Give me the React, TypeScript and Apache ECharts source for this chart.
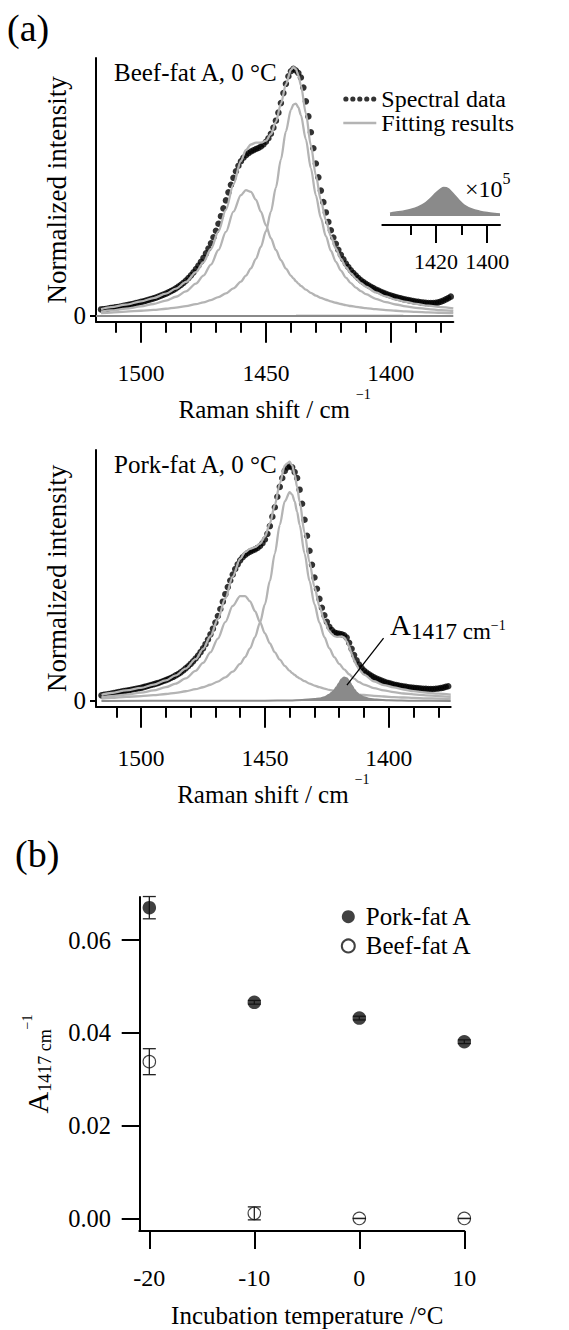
import React, { useEffect, useRef } from 'react';
import * as echarts from 'echarts';

const FONT = 'Liberation Serif, Times New Roman, serif';
const FIT_GRAY = '#b4b4b4';
const DARK_GRAY = '#8a8a8a';

// ---------- Spectral data (1 cm-1 sampling, 1516 -> 1376 cm-1) ----------
const DATA_START = 1516;
const BEEF_DATA = [
  0.025, 0.026, 0.027, 0.029, 0.031, 0.032, 0.034, 0.035, 0.037, 0.039,
  0.041, 0.043, 0.045, 0.047, 0.050, 0.052, 0.055, 0.057, 0.060, 0.063,
  0.066, 0.069, 0.072, 0.076, 0.080, 0.084, 0.088, 0.093, 0.098, 0.103,
  0.109, 0.116, 0.123, 0.131, 0.140, 0.150, 0.161, 0.173, 0.186, 0.200,
  0.215, 0.231, 0.249, 0.268, 0.289, 0.313, 0.339, 0.367, 0.397, 0.428,
  0.460, 0.492, 0.522, 0.550, 0.576, 0.598, 0.616, 0.630, 0.640, 0.648,
  0.655, 0.660, 0.665, 0.669, 0.675, 0.683, 0.694, 0.708, 0.726, 0.750,
  0.778, 0.810, 0.848, 0.888, 0.925, 0.955, 0.975, 0.985, 0.978, 0.968,
  0.950, 0.910, 0.855, 0.795, 0.732, 0.668, 0.607, 0.552, 0.499, 0.453,
  0.412, 0.374, 0.341, 0.312, 0.287, 0.263, 0.243, 0.225, 0.208, 0.194,
  0.181, 0.170, 0.160, 0.150, 0.141, 0.134, 0.127, 0.121, 0.115, 0.110,
  0.104, 0.100, 0.095, 0.091, 0.087, 0.083, 0.080, 0.077, 0.074, 0.071,
  0.069, 0.066, 0.064, 0.062, 0.060, 0.058, 0.056, 0.055, 0.053, 0.052,
  0.051, 0.050, 0.050, 0.050, 0.051, 0.053, 0.056, 0.060, 0.065, 0.070,
  0.076,
];
const PORK_DATA = [
  0.024, 0.026, 0.028, 0.030, 0.032, 0.034, 0.036, 0.038, 0.040, 0.042,
  0.044, 0.046, 0.048, 0.050, 0.052, 0.054, 0.056, 0.059, 0.062, 0.065,
  0.068, 0.071, 0.074, 0.077, 0.081, 0.085, 0.089, 0.093, 0.098, 0.103,
  0.109, 0.115, 0.122, 0.130, 0.139, 0.148, 0.158, 0.169, 0.181, 0.194,
  0.208, 0.224, 0.242, 0.262, 0.284, 0.308, 0.334, 0.362, 0.392, 0.423,
  0.455, 0.485, 0.513, 0.539, 0.562, 0.582, 0.599, 0.612, 0.622, 0.630,
  0.636, 0.641, 0.646, 0.652, 0.660, 0.672, 0.688, 0.712, 0.745, 0.785,
  0.825, 0.870, 0.912, 0.950, 0.980, 0.995, 1.000, 0.995, 0.975, 0.950,
  0.900, 0.840, 0.772, 0.704, 0.640, 0.580, 0.526, 0.478, 0.435, 0.397,
  0.365, 0.337, 0.316, 0.302, 0.292, 0.288, 0.286, 0.284, 0.280, 0.270,
  0.248, 0.222, 0.196, 0.173, 0.155, 0.141, 0.130, 0.121, 0.114, 0.107,
  0.101, 0.096, 0.091, 0.087, 0.083, 0.079, 0.076, 0.073, 0.070, 0.068,
  0.066, 0.064, 0.062, 0.060, 0.058, 0.057, 0.056, 0.055, 0.054, 0.053,
  0.052, 0.052, 0.051, 0.051, 0.051, 0.052, 0.053, 0.055, 0.057, 0.060,
  0.063,
];

// ---------- Fitting results ----------
const FIT_X = [
  1516, 1512, 1506, 1500, 1495, 1490, 1486, 1482, 1478, 1475,
  1472, 1469, 1466, 1463, 1460, 1458, 1456, 1454, 1452, 1450,
  1448, 1446, 1444, 1442, 1440, 1439, 1438, 1437, 1436, 1434,
  1432, 1430, 1428, 1426, 1424, 1422, 1420, 1418, 1416, 1414,
  1412, 1410, 1406, 1402, 1398, 1394, 1390, 1385, 1380, 1375,
];
const BEEF_FIT_TOTAL = [
  0.026, 0.034, 0.044, 0.057, 0.070, 0.088, 0.108, 0.135, 0.174, 0.213,
  0.266, 0.336, 0.423, 0.524, 0.617, 0.661, 0.683, 0.690, 0.690, 0.698,
  0.724, 0.773, 0.845, 0.923, 0.981, 0.991, 0.984, 0.959, 0.919, 0.807,
  0.679, 0.560, 0.460, 0.381, 0.316, 0.267, 0.227, 0.194, 0.169, 0.148,
  0.130, 0.116, 0.093, 0.077, 0.064, 0.055, 0.047, 0.040, 0.034, 0.029,
];
const BEEF_FIT_1440 = [
  0.010, 0.0125, 0.016, 0.0196, 0.0231, 0.0277, 0.0323, 0.0382, 0.0458, 0.0533,
  0.0623, 0.074, 0.0892, 0.109, 0.136, 0.160, 0.189, 0.227, 0.275, 0.337,
  0.415, 0.511, 0.623, 0.735, 0.821, 0.842, 0.846, 0.831, 0.800, 0.703,
  0.588, 0.480, 0.389, 0.317, 0.259, 0.215, 0.180, 0.152, 0.130, 0.112,
  0.0977, 0.0858, 0.0674, 0.0543, 0.0446, 0.0373, 0.0315, 0.0261, 0.0219, 0.0187,
];
const BEEF_FIT_1457 = [
  0.016, 0.021, 0.028, 0.0371, 0.0466, 0.0603, 0.0756, 0.0971, 0.128, 0.160,
  0.204, 0.262, 0.334, 0.415, 0.481, 0.501, 0.494, 0.463, 0.415, 0.361,
  0.309, 0.262, 0.222, 0.188, 0.160, 0.1487, 0.138, 0.128, 0.119, 0.104,
  0.091, 0.0803, 0.0713, 0.0636, 0.0571, 0.0515, 0.0466, 0.0424, 0.0387, 0.0355,
  0.0326, 0.0301, 0.0259, 0.0224, 0.0196, 0.0173, 0.0154, 0.0134, 0.0118, 0.0104,
];
const PORK_FIT_1440 = [
  0.010, 0.013, 0.0173, 0.0209, 0.0247, 0.0297, 0.0349, 0.0415, 0.0502, 0.0586,
  0.0692, 0.0829, 0.101, 0.125, 0.158, 0.187, 0.224, 0.272, 0.334, 0.412,
  0.511, 0.628, 0.750, 0.850, 0.889, 0.879, 0.850, 0.805, 0.750, 0.628,
  0.511, 0.412, 0.334, 0.272, 0.224, 0.187, 0.158, 0.135, 0.114, 0.095,
  0.080, 0.070, 0.055, 0.045, 0.038, 0.032, 0.028, 0.024, 0.021, 0.018,
];
const PORK_FIT_1459 = [
  0.016, 0.021, 0.0275, 0.0355, 0.045, 0.0587, 0.0742, 0.0963, 0.128, 0.162,
  0.207, 0.266, 0.336, 0.405, 0.447, 0.447, 0.424, 0.383, 0.336, 0.288,
  0.245, 0.207, 0.176, 0.150, 0.128, 0.119, 0.111, 0.103, 0.0963, 0.0843,
  0.0742, 0.0658, 0.0587, 0.0526, 0.0474, 0.0428, 0.0389, 0.0355, 0.0325, 0.0299,
  0.0275, 0.0255, 0.022, 0.0191, 0.0168, 0.0148, 0.0132, 0.0115, 0.0102, 0.009,
];
const PORK_TOTAL_X = [
  1516, 1512, 1506, 1500, 1495, 1490, 1486, 1482, 1478, 1475,
  1472, 1469, 1466, 1463, 1460, 1458, 1456, 1454, 1452, 1450,
  1448, 1446, 1444, 1442, 1441, 1440, 1439, 1438, 1437, 1436,
  1434, 1432, 1430, 1428, 1426, 1424, 1423, 1422, 1421, 1420,
  1419, 1418, 1417, 1416, 1415, 1414, 1413, 1412, 1410, 1406,
  1402, 1398, 1394, 1390, 1385, 1380, 1375,
];
const PORK_FIT_TOTAL = [
  0.026, 0.034, 0.045, 0.056, 0.070, 0.088, 0.109, 0.138, 0.178, 0.221,
  0.276, 0.349, 0.437, 0.530, 0.605, 0.634, 0.648, 0.655, 0.670, 0.700,
  0.756, 0.835, 0.926, 1.002, 1.012, 1.019, 1.003, 0.964, 0.911, 0.850,
  0.717, 0.591, 0.486, 0.404, 0.341, 0.298, 0.285, 0.276, 0.273, 0.274,
  0.275, 0.271, 0.255, 0.231, 0.201, 0.174, 0.152, 0.134, 0.112, 0.084,
  0.068, 0.058, 0.049, 0.042, 0.036, 0.031, 0.027,
];
// 1417 cm-1 component (pork, normalized intensity)
const PORK_C_X = [
  1516, 1480, 1460, 1450, 1440, 1435, 1430, 1428, 1426, 1424,
  1423, 1422, 1421, 1420, 1419, 1418, 1417, 1416, 1415, 1414,
  1413, 1412, 1410, 1408, 1405, 1400, 1390, 1375,
];
const PORK_C = [
  0.0003, 0.0006, 0.001, 0.0015, 0.002, 0.004, 0.008, 0.011, 0.016, 0.027,
  0.035, 0.046, 0.06, 0.077, 0.093, 0.1, 0.097, 0.084, 0.066, 0.049,
  0.036, 0.026, 0.016, 0.01, 0.006, 0.003, 0.001, 0.0005,
];
// 1417 cm-1 component (beef), in units of 1e-5 (inset, "x10^5")
const INSET_X = [
  1438, 1436, 1433, 1430, 1427, 1424, 1422, 1420, 1418, 1417,
  1416, 1415, 1413, 1411, 1409, 1406, 1403, 1400, 1397, 1395,
];
const BEEF_C_X1E5 = [
  0.012, 0.016, 0.021, 0.028, 0.039, 0.058, 0.077, 0.100, 0.118, 0.123,
  0.122, 0.116, 0.092, 0.068, 0.047, 0.030, 0.021, 0.015, 0.011, 0.009,
];

// ---------- Panel (b) ----------
const TEMPS = [-20, -10, 0, 10];
const PORK_A1417 = [0.0670, 0.0466, 0.0432, 0.0381];
const PORK_ERR = [0.0024, 0.0004, 0.0004, 0.0004];
const BEEF_A1417 = [0.0338, 0.0011, 0.0, 0.0];
const BEEF_ERR = [0.0028, 0.0014, 0.0, 0.0];

// ---------- Ticks ----------
const RAMAN_MAJOR = [1500, 1450, 1400];
const RAMAN_MINOR = [1510, 1490, 1480, 1470, 1460, 1440, 1430, 1420, 1410, 1390, 1380];
const INSET_MAJOR = [1420, 1400];
const INSET_MINOR = [1430, 1410];
const A_TICKS = [0, 0.02, 0.04, 0.06];
const T_TICKS = [-20, -10, 0, 10];

const zip = (xs: number[], ys: number[]) => xs.map((x, i) => [x, ys[i]]);
const onGrid = (ys: number[]) => ys.map((y, i) => [DATA_START - i, y]);

const DOTS_ICON =
  'path://M0,2.75a2.75,2.75 0 1,0 5.5,0a2.75,2.75 0 1,0 -5.5,0' +
  'M7.375,2.75a2.75,2.75 0 1,0 5.5,0a2.75,2.75 0 1,0 -5.5,0' +
  'M14.75,2.75a2.75,2.75 0 1,0 5.5,0a2.75,2.75 0 1,0 -5.5,0' +
  'M22.125,2.75a2.75,2.75 0 1,0 5.5,0a2.75,2.75 0 1,0 -5.5,0' +
  'M29.5,2.75a2.75,2.75 0 1,0 5.5,0a2.75,2.75 0 1,0 -5.5,0';
const LINE_ICON = 'path://M0,0h35v2.4h-35z';

const black = '#000';
const axisLine = { show: true, onZero: false, lineStyle: { color: black, width: 2 } };
const tickStyle = { color: black, width: 2 };
const plain = (v: number) => String(v);

function ramanAxes(gridIndex: number, max: number) {
  return [
    {
      type: 'value', gridIndex, position: 'bottom', min: 1375, max, inverse: true,
      axisLine,
      axisTick: { show: true, length: 21, lineStyle: tickStyle, customValues: RAMAN_MAJOR },
      axisLabel: { show: true, customValues: RAMAN_MAJOR, formatter: plain, margin: 39.5, fontSize: 23.5, color: black, fontFamily: FONT },
      splitLine: { show: false },
      name: '{m|Raman shift / cm}{s|\u22121}',
      nameLocation: 'middle', nameGap: 66, nameMoveOverlap: false,
      nameTextStyle: {
        color: black, fontFamily: FONT,
        rich: {
          m: { fontSize: 25, lineHeight: 44, fontFamily: FONT, color: black },
          s: { fontSize: 14, verticalAlign: 'top', padding: [0, 0, 0, 6], fontFamily: FONT, color: black },
        },
      },
    },
    {
      type: 'value', gridIndex, position: 'bottom', min: 1375, max, inverse: true,
      axisLine: { show: false, onZero: false },
      axisTick: { show: true, length: 11, lineStyle: tickStyle, customValues: RAMAN_MINOR },
      axisLabel: { show: false },
      splitLine: { show: false },
    },
  ];
}

function intensityAxis(gridIndex: number, min: number, max: number) {
  return {
    type: 'value', gridIndex, min, max,
    axisLine,
    axisTick: { show: true, length: 6, lineStyle: tickStyle, customValues: [0] },
    axisLabel: { show: true, customValues: [0], formatter: () => '0', margin: 10, fontSize: 25, color: black, fontFamily: FONT },
    splitLine: { show: false },
    name: 'Normalized intensity', nameLocation: 'middle', nameRotate: 90, nameGap: 26, nameMoveOverlap: false,
    nameTextStyle: { fontSize: 27, color: black, fontFamily: FONT },
  };
}

function fitLine(name: string, xs: number[], ys: number[], xAxisIndex: number, yAxisIndex: number) {
  return {
    name, type: 'line', xAxisIndex, yAxisIndex, data: zip(xs, ys),
    showSymbol: false, symbol: 'none', smooth: 0.3, smoothMonotone: 'x',
    lineStyle: { color: FIT_GRAY, width: 2.3 }, itemStyle: { color: FIT_GRAY },
    z: 3, silent: true,
  };
}

function dataScatter(ys: number[], xAxisIndex: number, yAxisIndex: number) {
  return {
    name: 'Spectral data', type: 'scatter', xAxisIndex, yAxisIndex, data: onGrid(ys),
    symbol: 'circle', symbolSize: 6.5, itemStyle: { color: black }, z: 2, silent: true,
  };
}

const errRender = (params: any, api: any) => {
  const x = api.value(0);
  const lo = api.value(2);
  const hi = api.value(3);
  const top = api.coord([x, hi]);
  const bot = api.coord([x, lo]);
  const w = 6.5;
  const style = { stroke: '#222', lineWidth: 1.3 };
  return {
    type: 'group',
    children: [
      { type: 'line', shape: { x1: top[0], y1: top[1], x2: bot[0], y2: bot[1] }, style },
      { type: 'line', shape: { x1: top[0] - w, y1: top[1], x2: top[0] + w, y2: top[1] }, style },
      { type: 'line', shape: { x1: bot[0] - w, y1: bot[1], x2: bot[0] + w, y2: bot[1] }, style },
    ],
  };
};

function buildOption() {
  const errData = [
    ...TEMPS.map((t, i) => [t, PORK_A1417[i], PORK_A1417[i] - PORK_ERR[i], PORK_A1417[i] + PORK_ERR[i]]),
    ...TEMPS.map((t, i) => [t, BEEF_A1417[i], BEEF_A1417[i] - BEEF_ERR[i], BEEF_A1417[i] + BEEF_ERR[i]]),
  ];

  return {
    animation: false,
    backgroundColor: '#fff',
    textStyle: { fontFamily: FONT, color: black },
    title: [
      { text: '(a)', left: 7, top: 9, padding: 0, textStyle: { fontSize: 38, fontWeight: 'normal', fontFamily: FONT, color: black } },
      { text: '(b)', left: 15, top: 835, padding: 0, textStyle: { fontSize: 38, fontWeight: 'normal', fontFamily: FONT, color: black } },
      { text: 'Beef-fat A, 0 \u00B0C', left: 114, top: 60, padding: 0, textStyle: { fontSize: 25, fontWeight: 'normal', fontFamily: FONT, color: black } },
      { text: 'Pork-fat A, 0 \u00B0C', left: 114, top: 451.5, padding: 0, textStyle: { fontSize: 25, fontWeight: 'normal', fontFamily: FONT, color: black } },
    ],
    legend: [
      {
        orient: 'vertical', left: 343.3, top: 87, padding: 0, itemGap: 0,
        itemWidth: 33, itemHeight: 7, selectedMode: false,
        textStyle: { fontSize: 24, lineHeight: 24, fontFamily: FONT, color: black },
        data: [
          { name: 'Spectral data', icon: DOTS_ICON, itemStyle: { color: black } },
          { name: 'Fitting results', icon: LINE_ICON, itemStyle: { color: FIT_GRAY } },
        ],
      },
      {
        orient: 'vertical', left: 340.8, top: 902, padding: 0, itemGap: 0,
        itemWidth: 25, itemHeight: 13, selectedMode: false,
        textStyle: { fontSize: 25, lineHeight: 29.3, fontFamily: FONT, color: black },
        data: [
          { name: 'Pork-fat A', icon: 'circle' },
          { name: 'Beef-fat A', icon: 'circle' },
        ],
      },
    ],
    grid: [
      { left: 96, top: 58, width: 357.3, height: 263.7, containLabel: false, outerBoundsMode: 'none' },
      { left: 382.3, top: 181.1, width: 117.7, height: 43.9, containLabel: false, outerBoundsMode: 'none' },
      { left: 96, top: 450, width: 354.7, height: 256.7, containLabel: false, outerBoundsMode: 'none' },
      { left: 139.3, top: 897, width: 325, height: 334, containLabel: false, outerBoundsMode: 'none' },
    ],
    xAxis: [
      ...ramanAxes(0, 1518),
      {
        type: 'value', gridIndex: 1, position: 'bottom', min: 1395, max: 1441, inverse: true,
        axisLine,
        axisTick: { show: true, length: 18, lineStyle: tickStyle, customValues: INSET_MAJOR },
        axisLabel: { show: true, customValues: INSET_MAJOR, formatter: plain, margin: 25.7, fontSize: 22, color: black, fontFamily: FONT },
        splitLine: { show: false },
      },
      {
        type: 'value', gridIndex: 1, position: 'bottom', min: 1395, max: 1441, inverse: true,
        axisLine: { show: false, onZero: false },
        axisTick: { show: true, length: 10, lineStyle: tickStyle, customValues: INSET_MINOR },
        axisLabel: { show: false },
        splitLine: { show: false },
      },
      ...ramanAxes(2, 1518.2),
      {
        type: 'value', gridIndex: 3, position: 'bottom', min: -20.955, max: 10,
        axisLine,
        axisTick: { show: true, length: 18, lineStyle: tickStyle, customValues: T_TICKS },
        axisLabel: { show: true, customValues: T_TICKS, formatter: plain, margin: 35, fontSize: 24, color: black, fontFamily: FONT },
        splitLine: { show: false },
        name: 'Incubation temperature /\u00B0C', nameLocation: 'middle', nameGap: 71.5, nameMoveOverlap: false,
        nameTextStyle: { fontSize: 25, lineHeight: 25, color: black, fontFamily: FONT, padding: [0, 0, 0, 11] },
      },
    ],
    yAxis: [
      intensityAxis(0, -0.024, 1.028),
      { type: 'value', gridIndex: 1, show: false, min: -0.0386, max: 0.15, splitLine: { show: false } },
      intensityAxis(2, -0.0243, 1.069),
      {
        type: 'value', gridIndex: 3, min: -0.0027, max: 0.0693,
        axisLine,
        axisTick: { show: true, length: 17.6, lineStyle: tickStyle, customValues: A_TICKS },
        axisLabel: {
          show: true, customValues: A_TICKS, margin: 28.3, fontSize: 24.5, color: black, fontFamily: FONT,
          formatter: (v: number) => v.toFixed(2),
        },
        splitLine: { show: false },
        name: '{a|A}{b|1417 cm}{c|\u22121}', nameLocation: 'middle', nameRotate: 90, nameGap: 85, nameMoveOverlap: false,
        nameTextStyle: {
          color: black, fontFamily: FONT,
          rich: {
            a: { fontSize: 30, lineHeight: 34, fontFamily: FONT, color: black },
            b: { fontSize: 18, verticalAlign: 'bottom', fontFamily: FONT, color: black },
            c: { fontSize: 14, verticalAlign: 'top', fontFamily: FONT, color: black },
          },
        },
      },
    ],
    graphic: [
      {
        type: 'text', x: 465, y: 170, silent: true,
        style: {
          text: '{a|\u00D710}{b|5}', fill: black, verticalAlign: 'top', align: 'left',
          rich: {
            a: { fontSize: 24, lineHeight: 31, verticalAlign: 'bottom', fontFamily: FONT, fill: black },
            b: { fontSize: 16, verticalAlign: 'top', fontFamily: FONT, fill: black },
          },
        },
      },
      {
        type: 'text', x: 390, y: 607, silent: true,
        style: {
          text: '{a|A}{b|1417 cm}{c|\u22121}', fill: black, verticalAlign: 'top', align: 'left',
          rich: {
            a: { fontSize: 29, lineHeight: 36, fontFamily: FONT, fill: black },
            b: { fontSize: 23, verticalAlign: 'bottom', fontFamily: FONT, fill: black },
            c: { fontSize: 14, fontFamily: FONT, fill: black },
          },
        },
      },
    ],
    series: [
      // (a) top: beef-fat
      dataScatter(BEEF_DATA, 0, 0),
      fitLine('Fitting results', FIT_X, BEEF_FIT_TOTAL, 0, 0),
      fitLine('Fitting results', FIT_X, BEEF_FIT_1440, 0, 0),
      fitLine('Fitting results', FIT_X, BEEF_FIT_1457, 0, 0),
      {
        name: 'A1417 beef', type: 'line', xAxisIndex: 0, yAxisIndex: 0,
        data: INSET_X.map((x, i) => [x, BEEF_C_X1E5[i] * 1e-5]),
        showSymbol: false, symbol: 'none', lineStyle: { color: DARK_GRAY, width: 2 }, z: 4, silent: true,
        markLine: {
          silent: true, symbol: ['none', 'none'], label: { show: false },
          lineStyle: { color: DARK_GRAY, width: 2, type: 'solid' },
          data: [{ yAxis: 0 }],
        },
      },
      // inset x10^5
      {
        name: 'A1417 beef x1e5', type: 'line', xAxisIndex: 2, yAxisIndex: 1,
        data: zip(INSET_X, BEEF_C_X1E5), smooth: 0.3, showSymbol: false, symbol: 'none',
        lineStyle: { color: DARK_GRAY, width: 1.5 }, areaStyle: { color: DARK_GRAY, opacity: 1 },
        silent: true,
      },
      // (a) bottom: pork-fat
      dataScatter(PORK_DATA, 4, 2),
      fitLine('Fitting results', PORK_TOTAL_X, PORK_FIT_TOTAL, 4, 2),
      fitLine('Fitting results', FIT_X, PORK_FIT_1440, 4, 2),
      fitLine('Fitting results', FIT_X, PORK_FIT_1459, 4, 2),
      {
        name: 'A1417 pork', type: 'line', xAxisIndex: 4, yAxisIndex: 2,
        data: zip(PORK_C_X, PORK_C), smooth: 0.3, smoothMonotone: 'x', showSymbol: false, symbol: 'none',
        lineStyle: { color: DARK_GRAY, width: 2 }, areaStyle: { color: DARK_GRAY, opacity: 1 },
        z: 4, silent: true,
        markLine: {
          silent: true, symbol: ['none', 'none'], label: { show: false },
          lineStyle: { color: black, width: 1.3, type: 'solid' },
          data: [[{ coord: [1416.9, 0.068] }, { coord: [1402.1, 0.268] }]],
        },
      },
      // (b)
      {
        name: 'err', type: 'custom', xAxisIndex: 6, yAxisIndex: 3,
        renderItem: errRender, data: errData, encode: { x: 0, y: 1 }, z: 2, silent: true,
      },
      {
        name: 'Pork-fat A', type: 'scatter', xAxisIndex: 6, yAxisIndex: 3,
        data: zip(TEMPS, PORK_A1417), symbol: 'circle', symbolSize: 13.5,
        itemStyle: { color: '#111' }, z: 3, silent: true,
      },
      {
        name: 'Beef-fat A', type: 'scatter', xAxisIndex: 6, yAxisIndex: 3,
        data: zip(TEMPS, BEEF_A1417), symbol: 'circle', symbolSize: 12.5,
        itemStyle: { color: 'rgba(255,255,255,0)', borderColor: '#111', borderWidth: 1.1 }, z: 3, silent: true,
      },
    ],
  };
}

export default function App() {
  const ref = useRef<HTMLDivElement>(null);
  useEffect(() => {
    if (!ref.current) return;
    const chart = echarts.init(ref.current, null, { renderer: 'svg' });
    chart.setOption(buildOption() as any);
    return () => chart.dispose();
  }, []);
  return (
    <div
      ref={ref}
      style={{ position: 'absolute', left: 0, top: 0, width: 569, height: 1330, background: '#fff' }}
    />
  );
}
